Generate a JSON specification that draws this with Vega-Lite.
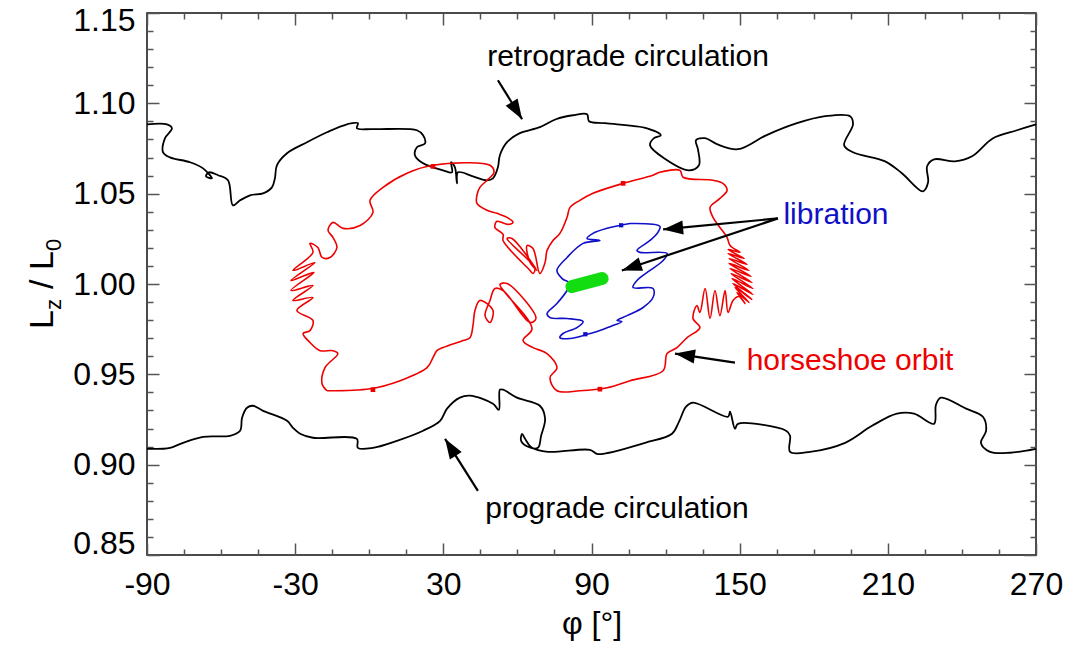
{
  "$schema": "https://vega.github.io/schema/vega-lite/v6.json",
  "width": 889,
  "height": 542,
  "autosize": {"type": "none"},
  "padding": {"left": 147, "top": 13, "right": 41, "bottom": 98},
  "background": "white",
  "config": {
    "font": "Liberation Sans",
    "view": {"stroke": "#111", "strokeWidth": 1.5},
    "axis": {"grid": false, "domain": false, "labelFont": "Liberation Sans", "labelColor": "#000", "tickColor": "#555", "tickWidth": 1.5, "titleFont": "Liberation Sans", "titleFontWeight": "normal", "titleColor": "#000", "labelOverlap": false}
  },
  "resolve": {"axis": {"x": "independent", "y": "independent"}},
  "datasets": {
    "top": [
      {"i":1,"phi":-90,"L":1.0884},{"i":2,"phi":-81.9,"L":1.0884},{"i":3,"phi":-79.9,"L":1.0862},{"i":4,"phi":-82.7,"L":1.0807},{"i":5,"phi":-83.5,"L":1.0729},{"i":6,"phi":-80.7,"L":1.0701},{"i":7,"phi":-72.6,"L":1.0674},{"i":8,"phi":-67.3,"L":1.064},{"i":9,"phi":-63.7,"L":1.0585},{"i":10,"phi":-66.1,"L":1.0596},{"i":11,"phi":-64.9,"L":1.0618},{"i":12,"phi":-61.2,"L":1.0602},{"i":13,"phi":-57.2,"L":1.0574},{"i":14,"phi":-55.2,"L":1.0435},{"i":15,"phi":-52.3,"L":1.0463},{"i":16,"phi":-48.3,"L":1.0491},{"i":17,"phi":-43.0,"L":1.0502},{"i":18,"phi":-39.4,"L":1.0535},{"i":19,"phi":-38.2,"L":1.0585},{"i":20,"phi":-37.4,"L":1.0657},{"i":21,"phi":-33.3,"L":1.0724},{"i":22,"phi":-25.2,"L":1.0785},{"i":23,"phi":-17.1,"L":1.084},{"i":24,"phi":-9.0,"L":1.0884},{"i":25,"phi":-4.6,"L":1.089},{"i":26,"phi":-5.0,"L":1.0862},{"i":27,"phi":1.5,"L":1.0857},{"i":28,"phi":19.3,"L":1.0851},{"i":29,"phi":21.8,"L":1.0823},{"i":30,"phi":22.6,"L":1.0779},{"i":31,"phi":19.3,"L":1.0757},{"i":32,"phi":18.5,"L":1.0713},{"i":33,"phi":21.8,"L":1.0668},{"i":34,"phi":29.9,"L":1.0629},{"i":35,"phi":33.5,"L":1.0618},{"i":36,"phi":33.1,"L":1.0674},{"i":37,"phi":34.7,"L":1.0646},{"i":38,"phi":35.5,"L":1.0557},{"i":39,"phi":35.9,"L":1.0618},{"i":40,"phi":42.0,"L":1.0596},{"i":41,"phi":47.7,"L":1.0574},{"i":42,"phi":50.1,"L":1.0585},{"i":43,"phi":52.1,"L":1.0646},{"i":44,"phi":52.9,"L":1.0713},{"i":45,"phi":55.8,"L":1.0785},{"i":46,"phi":61.0,"L":1.0835},{"i":47,"phi":69.1,"L":1.0868},{"i":48,"phi":75.6,"L":1.0912},{"i":49,"phi":82.5,"L":1.0934},{"i":50,"phi":88.2,"L":1.094},{"i":51,"phi":89.0,"L":1.0901},{"i":52,"phi":95.5,"L":1.089},{"i":53,"phi":112.5,"L":1.0862},{"i":54,"phi":118.1,"L":1.0823},{"i":55,"phi":115.3,"L":1.0807},{"i":56,"phi":113.7,"L":1.0768},{"i":57,"phi":119.4,"L":1.0696},{"i":58,"phi":129.5,"L":1.0629},{"i":59,"phi":133.5,"L":1.0657},{"i":60,"phi":133.1,"L":1.0746},{"i":61,"phi":132.3,"L":1.0796},{"i":62,"phi":136.0,"L":1.0807},{"i":63,"phi":140.8,"L":1.0774},{"i":64,"phi":149.3,"L":1.0746},{"i":65,"phi":160.7,"L":1.0823},{"i":66,"phi":173.2,"L":1.089},{"i":67,"phi":184.6,"L":1.0929},{"i":68,"phi":194.7,"L":1.0929},{"i":69,"phi":195.9,"L":1.0884},{"i":70,"phi":192.3,"L":1.0768},{"i":71,"phi":195.9,"L":1.0729},{"i":72,"phi":208.9,"L":1.0679},{"i":73,"phi":215.7,"L":1.0613},{"i":74,"phi":224.2,"L":1.0513},{"i":75,"phi":226.3,"L":1.0563},{"i":76,"phi":225.9,"L":1.0652},{"i":77,"phi":228.7,"L":1.069},{"i":78,"phi":237.2,"L":1.0679},{"i":79,"phi":244.1,"L":1.0707},{"i":80,"phi":252.6,"L":1.0807},{"i":81,"phi":262.3,"L":1.0851},{"i":82,"phi":270,"L":1.0884}
    ],
    "bottom": [
      {"i":1,"phi":-90,"L":0.9088},{"i":2,"phi":-83.5,"L":0.9088},{"i":3,"phi":-80.7,"L":0.9093},{"i":4,"phi":-75.4,"L":0.9121},{"i":5,"phi":-67.3,"L":0.9154},{"i":6,"phi":-56.4,"L":0.916},{"i":7,"phi":-52.3,"L":0.9188},{"i":8,"phi":-51.5,"L":0.926},{"i":9,"phi":-49.5,"L":0.9315},{"i":10,"phi":-47.1,"L":0.9326},{"i":11,"phi":-43.0,"L":0.9298},{"i":12,"phi":-33.3,"L":0.9243},{"i":13,"phi":-30.9,"L":0.9204},{"i":14,"phi":-28.0,"L":0.9171},{"i":15,"phi":-22.8,"L":0.9149},{"i":16,"phi":-5.0,"L":0.9143},{"i":17,"phi":-4.6,"L":0.9093},{"i":18,"phi":1.5,"L":0.9093},{"i":19,"phi":11.2,"L":0.9132},{"i":20,"phi":21.8,"L":0.9188},{"i":21,"phi":28.7,"L":0.9243},{"i":22,"phi":31.5,"L":0.931},{"i":23,"phi":36.7,"L":0.9371},{"i":24,"phi":40.8,"L":0.9382},{"i":25,"phi":50.1,"L":0.9337},{"i":26,"phi":52.5,"L":0.9304},{"i":27,"phi":52.9,"L":0.9415},{"i":28,"phi":54.2,"L":0.9415},{"i":29,"phi":59.8,"L":0.9371},{"i":30,"phi":69.1,"L":0.9326},{"i":31,"phi":71.2,"L":0.9254},{"i":32,"phi":69.6,"L":0.916},{"i":33,"phi":68.3,"L":0.9093},{"i":34,"phi":64.3,"L":0.9099},{"i":35,"phi":61.5,"L":0.9132},{"i":36,"phi":61.9,"L":0.9171},{"i":37,"phi":63.1,"L":0.9143},{"i":38,"phi":65.9,"L":0.9093},{"i":39,"phi":72.4,"L":0.9071},{"i":40,"phi":89.4,"L":0.9082},{"i":41,"phi":92.2,"L":0.906},{"i":42,"phi":94.7,"L":0.906},{"i":43,"phi":111.7,"L":0.9121},{"i":44,"phi":122.6,"L":0.9171},{"i":45,"phi":125.4,"L":0.9237},{"i":46,"phi":128.3,"L":0.9321},{"i":47,"phi":131.1,"L":0.9343},{"i":48,"phi":145.3,"L":0.9265},{"i":49,"phi":146.1,"L":0.9293},{"i":50,"phi":148.1,"L":0.9199},{"i":51,"phi":149.3,"L":0.9226},{"i":52,"phi":168.8,"L":0.9188},{"i":53,"phi":170.4,"L":0.916},{"i":54,"phi":170.4,"L":0.9071},{"i":55,"phi":178.5,"L":0.9071},{"i":56,"phi":192.7,"L":0.9121},{"i":57,"phi":203.6,"L":0.9215},{"i":58,"phi":213.7,"L":0.9282},{"i":59,"phi":220.6,"L":0.9282},{"i":60,"phi":228.7,"L":0.9226},{"i":61,"phi":229.5,"L":0.9332},{"i":62,"phi":231.5,"L":0.9371},{"i":63,"phi":241.7,"L":0.931},{"i":64,"phi":248.5,"L":0.9265},{"i":65,"phi":249.8,"L":0.9188},{"i":66,"phi":247.7,"L":0.9121},{"i":67,"phi":251.4,"L":0.9071},{"i":68,"phi":259.5,"L":0.9066},{"i":69,"phi":270,"L":0.9088}
    ],
    "red": [
      {"i":1,"phi":-17.1,"L":0.9409},{"i":2,"phi":-19.1,"L":0.9448},{"i":3,"phi":-17.9,"L":0.9537},{"i":4,"phi":-12.7,"L":0.9615},{"i":5,"phi":-14.7,"L":0.9631},{"i":6,"phi":-19.9,"L":0.9631},{"i":7,"phi":-24.0,"L":0.9676},{"i":8,"phi":-26.8,"L":0.9726},{"i":9,"phi":-24.0,"L":0.9742},{"i":10,"phi":-22.8,"L":0.9798},{"i":11,"phi":-29.3,"L":0.9853},{"i":12,"phi":-22.8,"L":0.9925},{"i":13,"phi":-30.9,"L":0.9909},{"i":14,"phi":-22.8,"L":0.9992},{"i":15,"phi":-31.7,"L":0.9964},{"i":16,"phi":-22.4,"L":1.0064},{"i":17,"phi":-31.7,"L":1.0019},{"i":18,"phi":-22.0,"L":1.0119},{"i":19,"phi":-30.9,"L":1.0075},{"i":20,"phi":-22.8,"L":1.0175},{"i":21,"phi":-24.0,"L":1.0225},{"i":22,"phi":-20.8,"L":1.0202},{"i":23,"phi":-19.1,"L":1.0147},{"i":24,"phi":-15.9,"L":1.0147},{"i":25,"phi":-13.1,"L":1.0202},{"i":26,"phi":-14.7,"L":1.0258},{"i":27,"phi":-16.7,"L":1.0297},{"i":28,"phi":-14.7,"L":1.0341},{"i":29,"phi":-10.6,"L":1.0308},{"i":30,"phi":-3.7,"L":1.0324},{"i":31,"phi":1.5,"L":1.0396},{"i":32,"phi":0.3,"L":1.0463},{"i":33,"phi":5.6,"L":1.0535},{"i":34,"phi":15.3,"L":1.0613},{"i":35,"phi":25.8,"L":1.0657},{"i":36,"phi":48.9,"L":1.0657},{"i":37,"phi":50.5,"L":1.0618},{"i":38,"phi":47.7,"L":1.0574},{"i":39,"phi":44.8,"L":1.0535},{"i":40,"phi":43.6,"L":1.0491},{"i":41,"phi":43.6,"L":1.0446},{"i":42,"phi":47.7,"L":1.0408},{"i":43,"phi":51.7,"L":1.0391},{"i":44,"phi":55.8,"L":1.0369},{"i":45,"phi":58.2,"L":1.0341},{"i":46,"phi":56.2,"L":1.033},{"i":47,"phi":51.7,"L":1.0347},{"i":48,"phi":50.9,"L":1.0313},{"i":49,"phi":54.2,"L":1.0275},{"i":50,"phi":54.2,"L":1.0241},{"i":51,"phi":65.1,"L":1.0075},{"i":52,"phi":66.3,"L":1.0058},{"i":53,"phi":67.1,"L":1.0086},{"i":54,"phi":55.8,"L":1.0252},{"i":55,"phi":57.8,"L":1.0252},{"i":56,"phi":67.9,"L":1.0075},{"i":57,"phi":65.1,"L":1.0119},{"i":58,"phi":63.9,"L":1.0213},{"i":59,"phi":66.3,"L":1.0197},{"i":60,"phi":69.1,"L":1.0058},{"i":61,"phi":71.2,"L":1.0119},{"i":62,"phi":72.0,"L":1.0186},{"i":63,"phi":74.4,"L":1.0241},{"i":64,"phi":77.2,"L":1.028},{"i":65,"phi":80.1,"L":1.0369},{"i":66,"phi":81.3,"L":1.0424},{"i":67,"phi":85.3,"L":1.0463},{"i":68,"phi":90.6,"L":1.0502},{"i":69,"phi":102.8,"L":1.0557},{"i":70,"phi":114.9,"L":1.0602},{"i":71,"phi":117.7,"L":1.0618},{"i":72,"phi":125.8,"L":1.0629},{"i":73,"phi":127.1,"L":1.0591},{"i":74,"phi":139.2,"L":1.0574},{"i":75,"phi":143.2,"L":1.0557},{"i":76,"phi":144.9,"L":1.0518},{"i":77,"phi":142.0,"L":1.0474},{"i":78,"phi":138.0,"L":1.0424},{"i":79,"phi":139.2,"L":1.0369},{"i":80,"phi":142.0,"L":1.0313},{"i":81,"phi":144.9,"L":1.0258},{"i":82,"phi":146.1,"L":1.0213},
      {"i":83,"phi":150.1,"L":1.0175},{"i":84,"phi":145.3,"L":1.0191},{"i":85,"phi":151.8,"L":1.0141},{"i":86,"phi":145.3,"L":1.0169},{"i":87,"phi":153.0,"L":1.0108},{"i":88,"phi":145.7,"L":1.0141},{"i":89,"phi":153.8,"L":1.0075},{"i":90,"phi":145.7,"L":1.0114},{"i":91,"phi":154.6,"L":1.0042},{"i":92,"phi":146.1,"L":1.0086},{"i":93,"phi":155.0,"L":1.0008},{"i":94,"phi":146.5,"L":1.0058},{"i":95,"phi":155.4,"L":0.9975},{"i":96,"phi":146.9,"L":1.003},{"i":97,"phi":155.4,"L":0.9942},{"i":98,"phi":147.3,"L":1.0003},{"i":99,"phi":155.0,"L":0.9914},{"i":100,"phi":148.1,"L":0.9981},{"i":101,"phi":153.8,"L":0.9897},{"i":102,"phi":148.9,"L":0.9953},{"i":103,"phi":152.2,"L":0.9892},{"i":104,"phi":149.7,"L":0.9931},
      {"i":105,"phi":147.3,"L":0.9909},{"i":106,"phi":145.3,"L":0.9842},{"i":107,"phi":144.1,"L":0.9964},{"i":108,"phi":142.0,"L":0.9825},{"i":109,"phi":140.0,"L":0.9964},{"i":110,"phi":138.0,"L":0.9809},{"i":111,"phi":136.0,"L":0.9975},{"i":112,"phi":133.9,"L":0.9842},{"i":113,"phi":132.7,"L":0.9881},{"i":114,"phi":131.1,"L":0.9809},{"i":115,"phi":133.9,"L":0.9759},{"i":116,"phi":128.7,"L":0.9703},{"i":117,"phi":124.6,"L":0.9648},{"i":118,"phi":120.6,"L":0.9615},{"i":119,"phi":119.0,"L":0.952},{"i":120,"phi":105.6,"L":0.9465},{"i":121,"phi":96.3,"L":0.9426},{"i":122,"phi":85.3,"L":0.9409},{"i":123,"phi":76.0,"L":0.9409},{"i":124,"phi":73.2,"L":0.9481},{"i":125,"phi":76.0,"L":0.9537},{"i":126,"phi":72.0,"L":0.9615},{"i":127,"phi":66.3,"L":0.9648},{"i":128,"phi":62.3,"L":0.9687},{"i":129,"phi":65.9,"L":0.9753},{"i":130,"phi":55.0,"L":0.9953},{"i":131,"phi":52.9,"L":0.9997},{"i":132,"phi":55.8,"L":1.0003},{"i":133,"phi":67.5,"L":0.9809},{"i":134,"phi":65.1,"L":0.9787},{"i":135,"phi":54.2,"L":0.9964},{"i":136,"phi":50.9,"L":0.9975},{"i":137,"phi":48.9,"L":0.9909},{"i":138,"phi":46.9,"L":0.9825},{"i":139,"phi":48.9,"L":0.9787},{"i":140,"phi":50.1,"L":0.9853},{"i":141,"phi":44.8,"L":0.9909},{"i":142,"phi":42.8,"L":0.9853},{"i":143,"phi":42.0,"L":0.977},{"i":144,"phi":40.8,"L":0.9703},{"i":145,"phi":38.0,"L":0.9687},{"i":146,"phi":29.9,"L":0.9648},{"i":147,"phi":27.4,"L":0.9631},{"i":148,"phi":25.8,"L":0.9592},{"i":149,"phi":23.4,"L":0.9537},{"i":150,"phi":12.5,"L":0.9465},{"i":151,"phi":0.3,"L":0.942},{"i":152,"phi":-17.1,"L":0.9409}
    ],
    "blue": [
      {"i":1,"phi":105.6,"L":1.0335},{"i":2,"phi":117.7,"L":1.0319},{"i":3,"phi":116.9,"L":1.0286},{"i":4,"phi":113.7,"L":1.0241},{"i":5,"phi":108.4,"L":1.0186},{"i":6,"phi":109.6,"L":1.0175},{"i":7,"phi":120.6,"L":1.0169},{"i":8,"phi":119.0,"L":1.013},{"i":9,"phi":113.7,"L":1.0075},{"i":10,"phi":108.4,"L":1.0019},{"i":11,"phi":106.8,"L":0.9981},{"i":12,"phi":114.9,"L":0.9975},{"i":13,"phi":114.9,"L":0.9925},{"i":14,"phi":110.9,"L":0.987},{"i":15,"phi":104.4,"L":0.9825},{"i":16,"phi":100.3,"L":0.9798},{"i":17,"phi":102.3,"L":0.9792},{"i":18,"phi":97.5,"L":0.9764},{"i":19,"phi":93.4,"L":0.9742},{"i":20,"phi":89.4,"L":0.9726},{"i":21,"phi":81.3,"L":0.9698},{"i":22,"phi":77.2,"L":0.9703},{"i":23,"phi":78.5,"L":0.9726},{"i":24,"phi":84.1,"L":0.9759},{"i":25,"phi":86.6,"L":0.9792},{"i":26,"phi":80.1,"L":0.9809},{"i":27,"phi":73.2,"L":0.9814},{"i":28,"phi":72.0,"L":0.9836},{"i":29,"phi":76.0,"L":0.9892},{"i":30,"phi":80.1,"L":0.9964},{"i":31,"phi":81.3,"L":1.0003},{"i":32,"phi":78.1,"L":1.003},{"i":33,"phi":76.0,"L":1.0075},{"i":34,"phi":80.1,"L":1.0147},{"i":35,"phi":86.6,"L":1.0225},{"i":36,"phi":93.4,"L":1.0241},{"i":37,"phi":88.2,"L":1.0252},{"i":38,"phi":90.6,"L":1.028},{"i":39,"phi":96.3,"L":1.0308},{"i":40,"phi":101.5,"L":1.0324},{"i":41,"phi":105.6,"L":1.0335}
    ],
    "green": [
      {"i":1,"phi":82.1,"L":0.9986},{"i":2,"phi":94.3,"L":1.003}
    ],
    "redmarks": [
      {"phi":25.8,"L":1.0651},{"phi":1.5,"L":0.9415},{"phi":102.8,"L":1.0557},{"phi":93.4,"L":0.9418}
    ],
    "bluemarks": [
      {"phi":102.0,"L":1.0325},{"phi":87.5,"L":0.9722}
    ],
    "arrows": [
      {"a":"retro","phi":52.1,"L":1.1128,"phi2":61.9,"L2":1.0912},
      {"a":"lib1","phi":165.5,"L":1.0363,"phi2":119.0,"L2":1.0302},
      {"a":"lib2","phi":165.5,"L":1.0363,"phi2":102.3,"L2":1.0075},
      {"a":"horse","phi":148.1,"L":0.9565,"phi2":123.8,"L2":0.9615},
      {"a":"pro","phi":44.0,"L":0.8855,"phi2":30.7,"L2":0.9143}
    ],
    "labels": [
      {"t":"retrograde circulation","phi":104.8,"L":1.1256},
      {"t":"libration","phi":189.0,"L":1.038},
      {"t":"horseshoe orbit","phi":194.7,"L":0.9576},
      {"t":"prograde circulation","phi":100.3,"L":0.8755}
    ]
  },
  "layer": [
    {
      "data": {"name": "top"},
      "mark": {"type": "line", "color": "#000", "strokeWidth": 1.8, "strokeJoin": "round", "interpolate": "catmull-rom"},
      "encoding": {
        "x": {"field": "phi", "type": "quantitative", "scale": {"domain": [-90, 270], "nice": false, "zero": false},
              "axis": {"orient": "bottom", "values": [-90, -30, 30, 90, 150, 210, 270], "labelExpr": "datum.value < 0 ? '-' + abs(datum.value) : '' + datum.value", "ticks": false, "tickSize": 0, "labelFontSize": 32, "labelPadding": 14, "labelFlush": false, "title": "φ [°]", "titleFontSize": 32, "titlePadding": 8}},
        "y": {"field": "L", "type": "quantitative", "scale": {"domain": [0.85, 1.15], "nice": false, "zero": false},
              "axis": {"orient": "left", "values": [0.85, 0.9, 0.95, 1.0, 1.05, 1.1, 1.15], "format": ".2f", "ticks": false, "tickSize": 0, "labelFontSize": 32, "labelPadding": 12, "labelFlush": false, "labelBaseline": "middle",
                       "labelOffset": {"condition": [{"test": "datum.value > 1.14", "value": 7}, {"test": "datum.value < 0.86", "value": -12}], "value": 0}, "title": null}},
        "order": {"field": "i", "type": "quantitative"}
      }
    },
    {
      "data": {"name": "bottom"},
      "mark": {"type": "line", "color": "#000", "strokeWidth": 1.8, "strokeJoin": "round", "interpolate": "catmull-rom"},
      "encoding": {
        "x": {"field": "phi", "type": "quantitative", "axis": {"orient": "bottom", "values": [-90, -30, 30, 90, 150, 210, 270], "tickSize": -12, "labels": false, "title": null}},
        "y": {"field": "L", "type": "quantitative", "axis": {"orient": "left", "values": [0.85, 0.9, 0.95, 1.0, 1.05, 1.1, 1.15], "tickSize": -12, "labels": false, "title": null}},
        "order": {"field": "i", "type": "quantitative"}
      }
    },
    {
      "data": {"name": "red"},
      "mark": {"type": "line", "color": "#ee0000", "strokeWidth": 1.6, "strokeJoin": "round", "interpolate": "catmull-rom"},
      "encoding": {
        "x": {"field": "phi", "type": "quantitative", "axis": {"orient": "bottom", "values": [-75, -60, -45, -15, 0, 15, 45, 60, 75, 105, 120, 135, 165, 180, 195, 225, 240, 255], "tickSize": -6, "labels": false, "title": null}},
        "y": {"field": "L", "type": "quantitative", "axis": {"orient": "left", "values": [0.86, 0.87, 0.88, 0.89, 0.91, 0.92, 0.93, 0.94, 0.96, 0.97, 0.98, 0.99, 1.01, 1.02, 1.03, 1.04, 1.06, 1.07, 1.08, 1.09, 1.11, 1.12, 1.13, 1.14], "tickSize": -6, "labels": false, "title": null}},
        "order": {"field": "i", "type": "quantitative"}
      }
    },
    {
      "data": {"name": "blue"},
      "mark": {"type": "line", "color": "#1010c8", "strokeWidth": 1.6, "strokeJoin": "round", "interpolate": "catmull-rom"},
      "encoding": {
        "x": {"field": "phi", "type": "quantitative", "axis": {"orient": "top", "values": [-90, -30, 30, 90, 150, 210, 270], "tickSize": -12, "labels": false, "title": null}},
        "y": {"field": "L", "type": "quantitative", "axis": {"orient": "right", "values": [0.85, 0.9, 0.95, 1.0, 1.05, 1.1, 1.15], "tickSize": -12, "labels": false, "title": null}},
        "order": {"field": "i", "type": "quantitative"}
      }
    },
    {
      "data": {"name": "green"},
      "mark": {"type": "line", "color": "#11dd11", "strokeWidth": 13, "strokeCap": "round"},
      "encoding": {
        "x": {"field": "phi", "type": "quantitative", "axis": {"orient": "top", "values": [-75, -60, -45, -15, 0, 15, 45, 60, 75, 105, 120, 135, 165, 180, 195, 225, 240, 255], "tickSize": -6, "labels": false, "title": null}},
        "y": {"field": "L", "type": "quantitative", "axis": {"orient": "right", "values": [0.86, 0.87, 0.88, 0.89, 0.91, 0.92, 0.93, 0.94, 0.96, 0.97, 0.98, 0.99, 1.01, 1.02, 1.03, 1.04, 1.06, 1.07, 1.08, 1.09, 1.11, 1.12, 1.13, 1.14], "tickSize": -6, "labels": false, "title": null}},
        "order": {"field": "i", "type": "quantitative"}
      }
    },
    {
      "data": {"name": "redmarks"},
      "mark": {"type": "point", "shape": "square", "size": 22, "filled": true, "color": "#ee0000", "opacity": 1},
      "encoding": {"x": {"field": "phi", "type": "quantitative", "axis": null}, "y": {"field": "L", "type": "quantitative", "axis": null}}
    },
    {
      "data": {"name": "bluemarks"},
      "mark": {"type": "point", "shape": "square", "size": 18, "filled": true, "color": "#1010c8", "opacity": 1},
      "encoding": {"x": {"field": "phi", "type": "quantitative", "axis": null}, "y": {"field": "L", "type": "quantitative", "axis": null}}
    },
    {
      "mark": {"type": "rule", "color": "#555", "strokeWidth": 2.5, "strokeDash": [11, 8]},
      "encoding": {"y": {"datum": 1.0, "type": "quantitative", "axis": null}}
    },
    {
      "data": {"name": "arrows"},
      "mark": {"type": "rule", "color": "#000", "strokeWidth": 2.2},
      "encoding": {
        "x": {"field": "phi", "type": "quantitative", "axis": null},
        "y": {"field": "L", "type": "quantitative", "axis": null},
        "x2": {"field": "phi2"},
        "y2": {"field": "L2"}
      }
    },
    {
      "data": {"name": "arrows"},
      "transform": [{"filter": "datum.a === 'retro'"}],
      "mark": {"type": "point", "shape": "M0,0L0.35,1L-0.35,1Z", "size": 1600, "angle": 148.4, "filled": true, "color": "#000", "opacity": 1, "strokeWidth": 0},
      "encoding": {"x": {"field": "phi2", "type": "quantitative", "axis": null}, "y": {"field": "L2", "type": "quantitative", "axis": null}}
    },
    {
      "data": {"name": "arrows"},
      "transform": [{"filter": "datum.a === 'lib1'"}],
      "mark": {"type": "point", "shape": "M0,0L0.35,1L-0.35,1Z", "size": 1600, "angle": 264.5, "filled": true, "color": "#000", "opacity": 1, "strokeWidth": 0},
      "encoding": {"x": {"field": "phi2", "type": "quantitative", "axis": null}, "y": {"field": "L2", "type": "quantitative", "axis": null}}
    },
    {
      "data": {"name": "arrows"},
      "transform": [{"filter": "datum.a === 'lib2'"}],
      "mark": {"type": "point", "shape": "M0,0L0.35,1L-0.35,1Z", "size": 1600, "angle": 251.6, "filled": true, "color": "#000", "opacity": 1, "strokeWidth": 0},
      "encoding": {"x": {"field": "phi2", "type": "quantitative", "axis": null}, "y": {"field": "L2", "type": "quantitative", "axis": null}}
    },
    {
      "data": {"name": "arrows"},
      "transform": [{"filter": "datum.a === 'horse'"}],
      "mark": {"type": "point", "shape": "M0,0L0.35,1L-0.35,1Z", "size": 1600, "angle": 278.5, "filled": true, "color": "#000", "opacity": 1, "strokeWidth": 0},
      "encoding": {"x": {"field": "phi2", "type": "quantitative", "axis": null}, "y": {"field": "L2", "type": "quantitative", "axis": null}}
    },
    {
      "data": {"name": "arrows"},
      "transform": [{"filter": "datum.a === 'pro'"}],
      "mark": {"type": "point", "shape": "M0,0L0.35,1L-0.35,1Z", "size": 1600, "angle": 327.6, "filled": true, "color": "#000", "opacity": 1, "strokeWidth": 0},
      "encoding": {"x": {"field": "phi2", "type": "quantitative", "axis": null}, "y": {"field": "L2", "type": "quantitative", "axis": null}}
    },
    {
      "data": {"name": "labels"},
      "mark": {"type": "text", "fontSize": 30, "align": "center", "baseline": "middle", "font": "Liberation Sans"},
      "encoding": {
        "x": {"field": "phi", "type": "quantitative", "axis": null},
        "y": {"field": "L", "type": "quantitative", "axis": null},
        "text": {"field": "t"},
        "color": {"field": "t", "type": "nominal", "legend": null, "scale": {"domain": ["retrograde circulation", "libration", "horseshoe orbit", "prograde circulation"], "range": ["#000000", "#1010c8", "#ee0000", "#000000"]}}
      }
    },
    {
      "data": {"values": [{"t": "L"}]},
      "mark": {"type": "text", "fontSize": 34, "angle": 270, "align": "left", "baseline": "alphabetic", "dx": -45, "dy": -94, "color": "#000"},
      "encoding": {"x": {"datum": -90, "type": "quantitative", "axis": null}, "y": {"datum": 1.0, "type": "quantitative", "axis": null}, "text": {"field": "t"}}
    },
    {
      "data": {"values": [{"t": "z"}]},
      "mark": {"type": "text", "fontSize": 22, "angle": 270, "align": "left", "baseline": "alphabetic", "dx": -26, "dy": -86, "color": "#000"},
      "encoding": {"x": {"datum": -90, "type": "quantitative", "axis": null}, "y": {"datum": 1.0, "type": "quantitative", "axis": null}, "text": {"field": "t"}}
    },
    {
      "data": {"values": [{"t": "/ L"}]},
      "mark": {"type": "text", "fontSize": 34, "angle": 270, "align": "left", "baseline": "alphabetic", "dx": -5, "dy": -94, "color": "#000"},
      "encoding": {"x": {"datum": -90, "type": "quantitative", "axis": null}, "y": {"datum": 1.0, "type": "quantitative", "axis": null}, "text": {"field": "t"}}
    },
    {
      "data": {"values": [{"t": "0"}]},
      "mark": {"type": "text", "fontSize": 22, "angle": 270, "align": "left", "baseline": "alphabetic", "dx": 33, "dy": -86, "color": "#000"},
      "encoding": {"x": {"datum": -90, "type": "quantitative", "axis": null}, "y": {"datum": 1.0, "type": "quantitative", "axis": null}, "text": {"field": "t"}}
    }
  ]
}
